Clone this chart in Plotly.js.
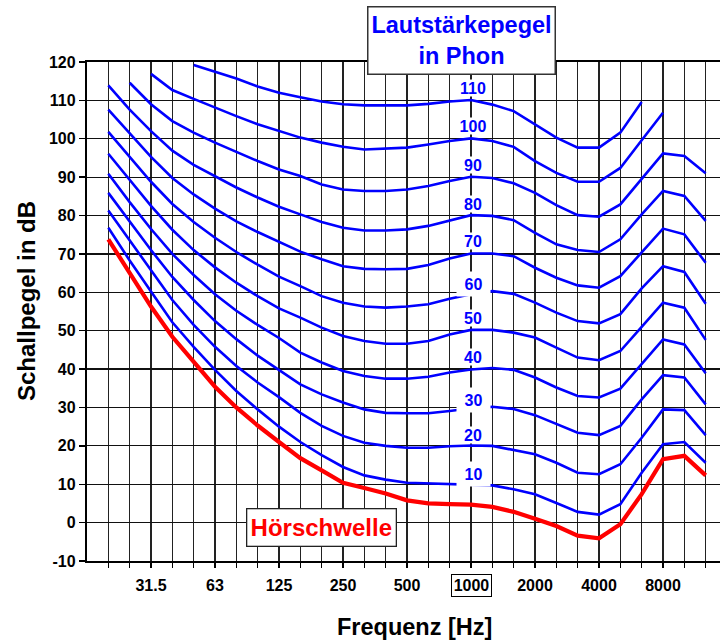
<!DOCTYPE html>
<html>
<head>
<meta charset="utf-8">
<script src="https://cdn.plot.ly/plotly-3.0.1.min.js"></script>
<style>html,body{margin:0;padding:0;background:#fff;}#chart{width:720px;height:641px;}</style>
</head>
<body>
<div id="chart"></div>
<script>
// Third-octave band centre frequencies (nominal, Hz)
const freqs = [20,25,31.5,40,50,63,80,100,125,160,200,250,315,400,500,630,800,1000,1250,1600,2000,2500,3150,4000,5000,6300,8000,10000,12500];

// Sound pressure levels (dB), one array per curve
const threshold = [73.8,65.0,56.3,48.4,41.7,35.4,30.0,25.3,21.0,16.8,13.6,10.4,9.0,7.6,5.8,5.0,4.8,4.7,4.1,2.8,1.0,-0.9,-3.4,-4.1,-0.4,7.4,16.5,17.4,12.3];
const phon10  = [76.8,68.3,60.2,52.2,45.8,39.8,34.3,29.5,25.0,21.0,17.6,14.5,12.3,11.2,10.4,10.2,10.0,9.9,9.7,8.7,7.4,5.1,2.8,2.1,4.8,13.0,20.4,21.0,15.6];
const phon20  = [81.3,73.5,65.5,58.0,51.5,45.8,40.8,36.5,32.7,28.6,25.2,22.6,20.8,20.0,19.5,19.5,19.9,20.1,20.0,18.9,17.8,15.6,13.0,12.6,15.2,22.1,29.5,29.3,22.8];
const phon30  = [85.9,78.3,71.0,64.0,58.0,52.5,47.8,43.5,39.7,36.0,33.4,31.3,29.5,28.6,28.5,28.5,29.1,29.8,30.2,29.6,28.0,25.6,23.4,22.8,25.2,32.1,38.4,37.8,30.8];
const phon40  = [90.9,83.5,76.5,70.0,64.5,59.5,55.2,51.5,48.1,44.3,41.7,39.5,38.2,37.5,37.5,38.0,39.1,39.9,40.3,39.8,37.8,35.2,33.0,32.6,34.9,41.3,47.7,46.4,38.9];
const phon50  = [96.1,89.2,82.5,76.3,71.0,66.5,62.5,59.0,55.8,53.4,50.8,48.6,47.3,46.6,46.6,47.3,49.0,50.2,50.2,49.5,48.2,45.6,43.0,42.3,44.7,51.0,57.3,56.0,47.6];
const phon60  = [101.8,95.2,88.8,83.0,78.3,74.2,70.5,67.2,64.1,61.6,59.0,57.3,56.3,56.0,56.3,56.9,58.3,59.5,60.3,59.6,57.3,54.7,52.5,51.9,54.3,61.0,66.8,65.3,57.0];
const phon70  = [107.6,101.5,95.3,89.8,85.5,81.8,78.5,75.7,73.2,70.6,68.6,66.8,66.1,66.0,66.1,67.1,68.8,70.1,70.1,69.4,66.4,63.8,61.8,61.2,64.2,70.5,76.6,75.1,67.7];
const phon80  = [113.9,107.6,102.0,96.9,93.2,90.2,87.3,84.7,82.3,80.3,78.3,76.8,76.1,76.1,76.4,77.3,78.8,80.1,79.9,78.8,75.5,72.5,71.0,70.5,73.8,80.3,86.4,85.1,78.6];
const phon90  = [null,114.6,109.0,104.6,101.6,99.0,96.5,94.2,92.0,90.3,88.1,86.8,86.4,86.4,86.8,87.7,89.0,90.1,89.8,88.4,85.9,82.7,80.1,79.7,82.9,89.7,96.2,95.5,91.0];
const phon100 = [null,null,116.9,112.7,110.4,108.1,105.9,103.8,102.0,100.3,99.0,97.9,97.2,97.4,97.7,98.5,99.4,100.1,99.4,97.9,94.2,91.1,88.8,88.8,92.4,99.6,106.8,null,null];
const phon110 = [null,null,null,null,119.2,117.4,115.7,113.6,112.0,110.8,109.7,109.0,108.7,108.7,108.7,109.1,109.7,110.1,108.9,107.2,103.7,100.3,97.7,97.7,101.6,109.6,null,null,null];

const phonCurves = [phon10,phon20,phon30,phon40,phon50,phon60,phon70,phon80,phon90,phon100,phon110];

// Curve labels at 1000 Hz
const phonLabels = ['110','100','90','80','70','60','50','40','30','20','10'];
const phonLabelY = [113.3,103.4,93.2,83.1,73.4,62.2,53.4,43.2,32.0,22.9,12.7];
const phonLabelOnCurve = [false,false,false,false,false,true,false,false,true,false,true];

// Axis tick labels
const xLabelled = [31.5,63,125,250,500,2000,4000,8000];
const boxedFreq = 1000;
const yTicks = [-10,0,10,20,30,40,50,60,70,80,90,100,110,120];

const texts = {
  xTitle: 'Frequenz [Hz]',
  yTitle: 'Schallpegel in dB',
  legendBox: 'Lautstärkepegel<br>in Phon',
  threshold: 'Hörschwelle'
};

// exact base-2 third-octave positions for the log axis
const exact = f => 1000 * Math.pow(2, Math.round(3 * Math.log2(f / 1000)) / 3);
const xPos = freqs.map(exact);

const BLUE = '#0000ff', RED = '#ff0000';
const FONT = 'Liberation Sans, Arial, Helvetica, sans-serif';

const traces = [];
phonCurves.forEach(c => traces.push({
  x: xPos, y: c, type: 'scatter', mode: 'lines',
  line: {color: BLUE, width: 2.6}, hoverinfo: 'skip', showlegend: false
}));
traces.push({
  x: xPos, y: threshold, type: 'scatter', mode: 'lines',
  line: {color: RED, width: 4.2}, hoverinfo: 'skip', showlegend: false
});

const W = 720, H = 641;
const M = {l: 87, r: 0, t: 62, b: 80};
const plotW = W - M.l - M.r, plotH = H - M.t - M.b;
const xLeft = Math.log10(exact(16));
const pxPerDecade = 64 / Math.log10(2);
const xRight = xLeft + plotW / pxPerDecade;
const px2paperX = p => (p - M.l) / plotW;
const px2paperY = p => (H - M.b - p) / plotH;

const base = {showarrow: false, xanchor: 'center', yanchor: 'middle'};
const annotations = [];
phonLabels.forEach((t, i) => {
  const gap = phonLabelOnCurve[i];
  annotations.push(Object.assign({}, base, {
    text: t, x: Math.log10(1000), xref: 'x', y: phonLabelY[i], yref: 'y',
    xshift: 2, bgcolor: '#ffffff', borderpad: 0,
    width: gap ? 33 : 30, height: gap ? 24 : 16,
    font: {family: FONT, size: 16, color: BLUE, weight: 'bold'}
  }));
});
annotations.push(Object.assign({}, base, {
  text: String(boxedFreq), x: Math.log10(exact(boxedFreq)), xref: 'x',
  y: px2paperY(585.4), yref: 'paper',
  bgcolor: '#ffffff', bordercolor: '#000', borderwidth: 1, borderpad: 0,
  width: 39, height: 21,
  font: {family: FONT, size: 16, color: '#000', weight: 'bold'}
}));
annotations.push(Object.assign({}, base, {
  text: texts.legendBox, x: px2paperX(461), xref: 'paper', y: px2paperY(40.7), yref: 'paper',
  bgcolor: '#ffffff', bordercolor: '#333', borderwidth: 1.5, borderpad: 0,
  width: 186, height: 66,
  font: {family: FONT, size: 23.5, color: BLUE, weight: 'bold'}
}));
annotations.push(Object.assign({}, base, {
  text: texts.threshold, x: px2paperX(321.7), xref: 'paper', y: px2paperY(527), yref: 'paper',
  bgcolor: '#ffffff', bordercolor: '#222', borderwidth: 1.3, borderpad: 0,
  width: 148, height: 36,
  font: {family: FONT, size: 24, color: RED, weight: 'bold'}
}));
annotations.push(Object.assign({}, base, {
  text: texts.xTitle, x: px2paperX(414.5), xref: 'paper', y: px2paperY(627), yref: 'paper',
  font: {family: FONT, size: 23.5, color: '#000', weight: 'bold'}
}));
annotations.push(Object.assign({}, base, {
  text: texts.yTitle, x: px2paperX(26), xref: 'paper', y: px2paperY(301), yref: 'paper',
  textangle: -90, font: {family: FONT, size: 24, color: '#000', weight: 'bold'}
}));

const layout = {
  width: W, height: H,
  margin: M,
  paper_bgcolor: '#fff', plot_bgcolor: '#fff',
  font: {family: FONT, size: 16, color: '#000', weight: 'bold'},
  showlegend: false,
  xaxis: {
    type: 'log', range: [xLeft, xRight], autorange: false,
    tickmode: 'array', tickvals: xPos,
    ticktext: freqs.map(f => xLabelled.includes(f) ? String(f) : ''),
    ticks: 'outside', ticklen: 5, tickwidth: 1.2, tickcolor: '#000',
    ticklabelstandoff: 4,
    showgrid: true, gridcolor: '#222', gridwidth: 1.1,
    showline: true, linecolor: '#000', linewidth: 1.6, mirror: true,
    zeroline: false, automargin: false, fixedrange: true,
    tickfont: {family: FONT, size: 16, color: '#000', weight: 'bold'}
  },
  yaxis: {
    range: [-10, 120], autorange: false,
    tickmode: 'array', tickvals: yTicks, ticktext: yTicks.map(String),
    ticks: 'outside', ticklen: 6, tickwidth: 1.4, tickcolor: '#000',
    showgrid: true, gridcolor: '#111', gridwidth: 1.2,
    showline: true, linecolor: '#000', linewidth: 2.2, mirror: false,
    zeroline: false, automargin: false, fixedrange: true,
    tickfont: {family: FONT, size: 16, color: '#000', weight: 'bold'}
  },
  annotations: annotations
};

Plotly.newPlot('chart', traces, layout, {staticPlot: true, displayModeBar: false});
</script>
</body>
</html>
